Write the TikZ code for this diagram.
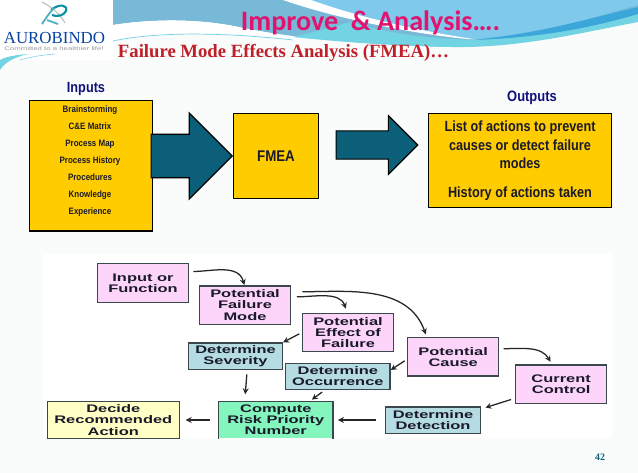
\documentclass[tikz,border=0pt]{standalone}
\usepackage{fontspec}
\usepackage{tikz}
\usetikzlibrary{arrows,shapes.arrows}
\setmainfont{Liberation Sans}
\newfontfamily\narrowfont[FakeStretch=0.86]{Liberation Sans}
\newfontfamily\widefont[FakeStretch=1.5]{Liberation Sans}
\newfontfamily\seriffont{Liberation Serif}
\newfontfamily\titlefont{Carlito}
\definecolor{slide}{HTML}{FAFBFB}
\definecolor{skyblue}{HTML}{7FC9EC}
\definecolor{skydull}{HTML}{77B9D6}
\definecolor{cyanband}{HTML}{72D3E2}
\definecolor{deepblue}{HTML}{3AA6DA}
\definecolor{gold}{HTML}{FFCC00}
\definecolor{teal}{HTML}{0B5F78}
\definecolor{navy}{HTML}{10107A}
\definecolor{pinkfill}{HTML}{FDD5FB}
\definecolor{bluefill}{HTML}{B5DCE3}
\definecolor{greenfill}{HTML}{84F5BD}
\definecolor{yellowfill}{HTML}{FFFFC6}
\definecolor{edgegrey}{HTML}{3A474C}
\definecolor{inkdark}{HTML}{1A1A2A}
\tikzset{
  goldbox/.style={draw=black,fill=gold,thick,inner sep=0pt,align=center,text=inkdark,font=\narrowfont\bfseries},
  bigarrow/.style={draw=black,fill=teal,thick,single arrow,single arrow head indent=0pt,inner xsep=0pt,anchor=tip},
  flowbox/.style={draw=edgegrey,line width=1pt,inner sep=0pt,align=center,text=inkdark,font=\widefont\bfseries\fontsize{7.8}{7.9}\selectfont},
  causebox/.style={flowbox,fill=pinkfill,minimum width=2.275cm,minimum height=0.96cm},
  checkbox/.style={flowbox,fill=bluefill,minimum height=0.66cm},
  flow/.style={->,>=stealth,draw=black!85,line width=0.9pt}
}
\begin{document}
\begin{tikzpicture}[x=0.025cm,y=-0.025cm]
\useasboundingbox (0,0) rectangle (638,473);
\fill[slide] (0,0) rectangle (638,473);
\fill[white] (0,0) rectangle (113,60);
\fill[white] (43,254) rectangle (612,438);

% header swoosh
\fill[skydull] (113,0) -- (113,25) .. controls (150,19) and (200,18) .. (243,28) .. controls (270,33) and (330,44) .. (453,47) .. controls (510,46) and (570,30) .. (638,13) -- (638,0) -- cycle;
\fill[skyblue] (283,0) .. controls (340,17) and (420,32) .. (480,40) .. controls (540,35) and (590,18) .. (638,5) -- (638,0) -- cycle;
\fill[cyanband] (350,22) .. controls (390,34) and (430,39) .. (480,40) .. controls (540,36) and (590,20) .. (638,7) -- (638,22) .. controls (580,33) and (520,48) .. (453,47) .. controls (400,46) and (340,42) .. (293,37) .. controls (310,33) and (330,28) .. (350,22) -- cycle;
\fill[white] (283,0) -- (311,0) .. controls (350,14) and (410,30) .. (480,40) .. controls (430,37) and (340,20) .. (283,0) -- cycle;
\fill[deepblue] (470,40) .. controls (540,34) and (590,18) .. (638,7) -- (638,14) .. controls (590,28) and (540,38) .. (470,40) -- cycle;
\draw[cyanband,line width=0.5pt] (113,41) .. controls (150,33) and (210,31) .. (293,40);
\fill[white] (113,25) .. controls (150,19) and (200,18) .. (243,28) .. controls (270,33) and (285,36) .. (293,37) -- (293,38) .. controls (220,30) and (150,32) .. (113,40) -- cycle;
\fill[cyanband] (0,70) .. controls (5,62) and (15,57) .. (28,54) .. controls (15,55) and (5,57) .. (0,60) -- cycle;
\draw[cyanband,line width=0.4pt] (20,60) .. controls (30,57) and (42,55) .. (55,54);

% logo
\draw[black!25,line width=0.8pt] (42,2) .. controls (52,7) and (60,14) .. (65,23);
\draw[teal!70!cyan,line width=1.5pt] (51,10) .. controls (60,3) and (68,5) .. (66,11) .. controls (64,16) and (56,17) .. (52,15);
\draw[cyanband!70!teal,line width=1.3pt] (42,24) .. controls (46,18) and (50,12) .. (54,8) (47,20) -- (58,24);
\node (logoname) [inner sep=0pt] at (54.5,38) {\seriffont\fontsize{12}{13}\selectfont\color{teal!70!blue}AUROBINDO};
\node (logotag) [inner sep=0pt] at (54,49) {\widefont\fontsize{3.7}{4}\selectfont\color{black!40}Committed to a healthier life!};

% -------------------------------

\node (title) at (370.5,23) {\titlefont\bfseries\fontsize{20}{24}\selectfont\color[HTML]{E0146F}Improve \ \& Analysis….};
\node (subtitle) at (283.5,52.5) {\seriffont\bfseries\fontsize{13.3}{15}\selectfont\color[HTML]{C01F28}Failure Mode Effects Analysis (FMEA)…};

\node (inputslabel) at (86,89) {\narrowfont\bfseries\fontsize{10.5}{12}\selectfont\color{navy}Inputs};
\node (outputslabel) at (532,98) {\narrowfont\bfseries\fontsize{10.7}{12}\selectfont\color{navy}Outputs};

\node (inputs) [goldbox,minimum width=3.075cm,minimum height=3.26cm] at (91,165.75) {};
\node (inputlist) [align=center,text=inkdark,font=\narrowfont\bfseries\fontsize{6.6}{12.1}\selectfont] at (90,161) {Brainstorming\\C\&E Matrix\\Process Map\\Process History\\Procedures\\Knowledge\\Experience};
\node (fmea) [goldbox,minimum width=2.125cm,minimum height=2.125cm,font=\narrowfont\bfseries\fontsize{11}{13}\selectfont] at (276,156) {FMEA};
\node (outputs) [goldbox,minimum width=4.585cm,minimum height=2.34cm,font=\narrowfont\bfseries\fontsize{10.5}{13.5}\selectfont] at (520,160.25) {List of actions to prevent\\causes or detect failure\\modes\\[6.5pt]History of actions taken};

\node (arrowin) [bigarrow,minimum height=2.025cm,inner ysep=0.53cm,single arrow head extend=0.53cm] at (233,156) {};
\node (arrowout) [bigarrow,minimum height=2.04cm,inner ysep=0.34cm,single arrow head extend=0.38cm] at (418.5,145) {};

% -------------------------------

\node (input) [causebox] at (143,283) {Input or\\Function};
\node (mode) [causebox] at (245,305) {Potential\\Failure\\Mode};
\node (effect) [causebox] at (348,332.5) {Potential\\Effect of\\Failure};
\node (cause) [causebox] at (453.2,356.85) {Potential\\Cause};
\node (control) [causebox] at (561.2,384.15) {Current\\Control};
\node (severity) [checkbox,minimum width=2.34cm] at (235.5,356.3) {Determine\\Severity};
\node (occurrence) [checkbox,minimum width=2.61cm] at (337.85,376.5) {Determine\\Occurrence};
\node (detection) [checkbox,minimum width=2.385cm] at (433,420) {Determine\\Detection};
\node (compute) [flowbox,draw=none,fill=greenfill,minimum width=2.825cm,minimum height=0.9cm] at (275.8,420) {Compute\\Risk Priority\\Number};
\draw[edgegrey,line width=1pt] (compute.south west) -- (compute.north west) -- (compute.north east) -- (compute.south east);
\node (action) [flowbox,fill=yellowfill,minimum width=3.3cm,minimum height=0.925cm] at (113.3,420) {Decide\\Recommended\\Action};

\draw[flow,shorten <=3pt] (input.14) to[out=0,in=105] (mode.92);
\draw[flow,shorten <=4pt,shorten >=3pt] (mode.10) to[out=0,in=110] (effect.92);
\draw[flow,shorten <=8pt,shorten >=2pt] (mode.16) to[out=0,in=110] (cause.143);
\draw[flow,shorten <=2pt] (effect.west) -- (severity.north east);
\draw[flow,shorten <=3pt,shorten >=5pt] (severity.-50) -- (compute.149);
\draw[flow,shorten <=2pt,shorten >=2pt] (occurrence.226) -- (compute.29);
\draw[flow,shorten <=2pt] (cause.183) -- (occurrence.7);
\draw[flow,shorten <=3pt,shorten >=2pt] (cause.10) to[out=0,in=120] (control.115);
\draw[flow,shorten <=3pt,shorten >=3pt] (control.197) -- (detection.13);
\draw[flow,shorten <=6pt,shorten >=3.5pt] (detection.west) -- (compute.east);
\draw[flow,shorten <=6pt,shorten >=4pt] (compute.west) -- (action.east);

\node (pagenumber) at (600,457) {\seriffont\bfseries\fontsize{7}{9}\selectfont\color{teal}42};
\end{tikzpicture}
\end{document}
